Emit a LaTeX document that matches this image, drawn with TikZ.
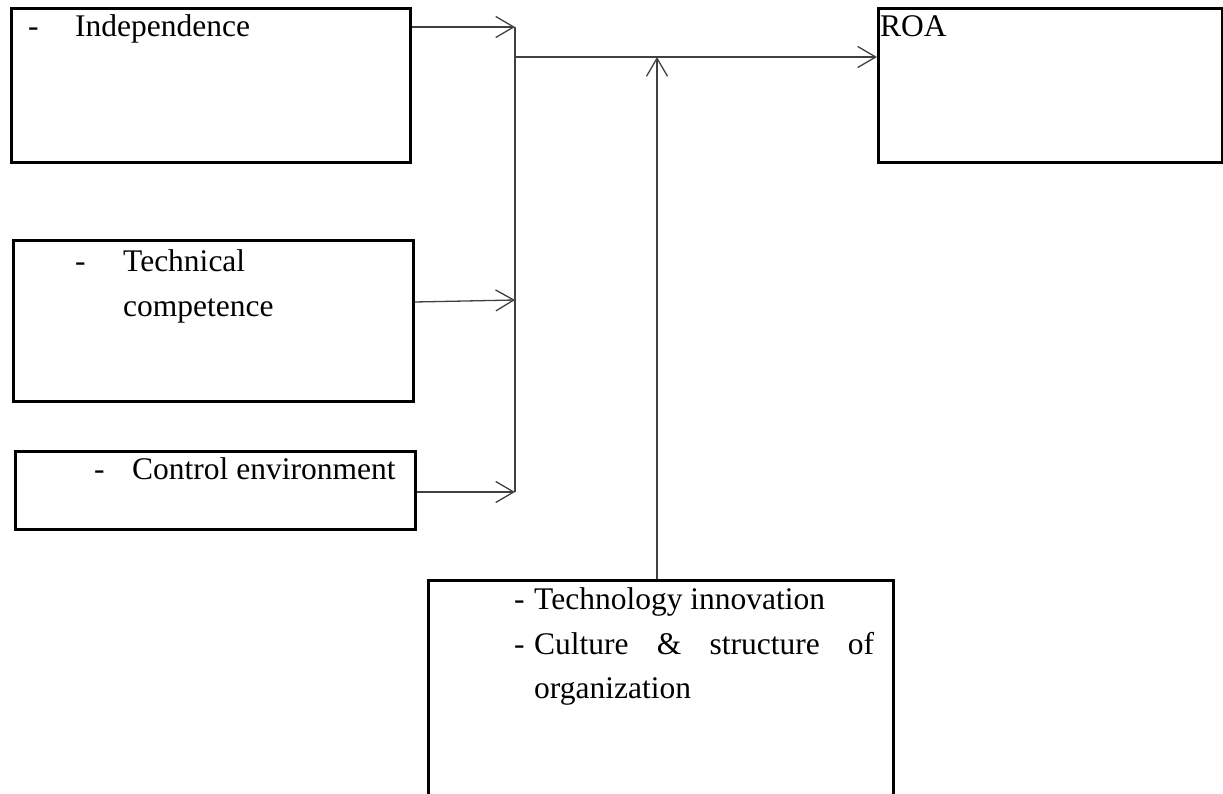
\documentclass[tikz,border=0pt]{standalone}
\usepackage{fontspec}
\setmainfont{Liberation Serif}
\usetikzlibrary{arrows.meta}
\begin{document}
\begin{tikzpicture}[x=1pt,y=-1pt,
  box/.style={draw=black, line width=2.6pt, inner sep=0pt, anchor=north west},
  txt/.style={anchor=base west, inner sep=0pt, font=\fontsize{31.5}{45}\selectfont},
  link/.style={draw=black!75, line width=1.3pt,
    -{Straight Barb[length=18pt,width=21pt,line width=1.3pt]}},
  bus/.style={draw=black!75, line width=1.3pt}]
\path[use as bounding box] (0,0) rectangle (1223,793);
\clip (0,0) rectangle (1223,793);

% boxes
\node[box, minimum width=399pt, minimum height=154pt] (indep) at (10,7) {};
\node[box, minimum width=400pt, minimum height=161pt] (tech) at (12,239) {};
\node[box, minimum width=400pt, minimum height=78pt] (ctrl) at (14,450) {};
\node[box, minimum width=344pt, minimum height=154pt] (roa) at (877,7) {};
\node[box, minimum width=465pt, minimum height=240pt] (innov) at (427,579) {};

% labels
\node[txt] (d1) at (28,36) {-};
\node[txt] (t1) at (75,36) {Independence};
\node[txt] (d2) at (75,271) {-};
\node[txt] (t2a) at (123,271) {Technical};
\node[txt] (t2b) at (123,316) {competence};
\node[txt] (d3) at (94,479) {-};
\node[txt] (t3) at (132,479) {Control environment};
\node[txt] (t4) at (880,36) {ROA};
\node[txt] (d5a) at (514,609) {-};
\node[txt] (t5a) at (534,609) {Technology innovation};
\node[txt] (d5b) at (514,654) {-};
\node[txt] (t5b) at (534,654) {\hbox to 340pt{Culture\hfill\&\hfill structure\hfill of}};
\node[txt] (t5c) at (534,698) {organization};

% junction points on the collecting line
\coordinate (j1) at (515,27);
\coordinate (j2) at (515,300);
\coordinate (j3) at (515,492);
\coordinate (jm) at (515,57);
\coordinate (jv) at (657,57);

% connectors
\draw[link] ([yshift=-2pt]tech.east |- j2) -- (j2);
\draw[link] (indep.east |- j1) -- (j1);
\draw[link] (ctrl.east |- j3) -- (j3);
\draw[bus] (j1) -- (j3);
\draw[link] (jm) -- (roa.west |- jm);
\draw[link] (innov.north -| jv) -- (jv);
\end{tikzpicture}
\end{document}
